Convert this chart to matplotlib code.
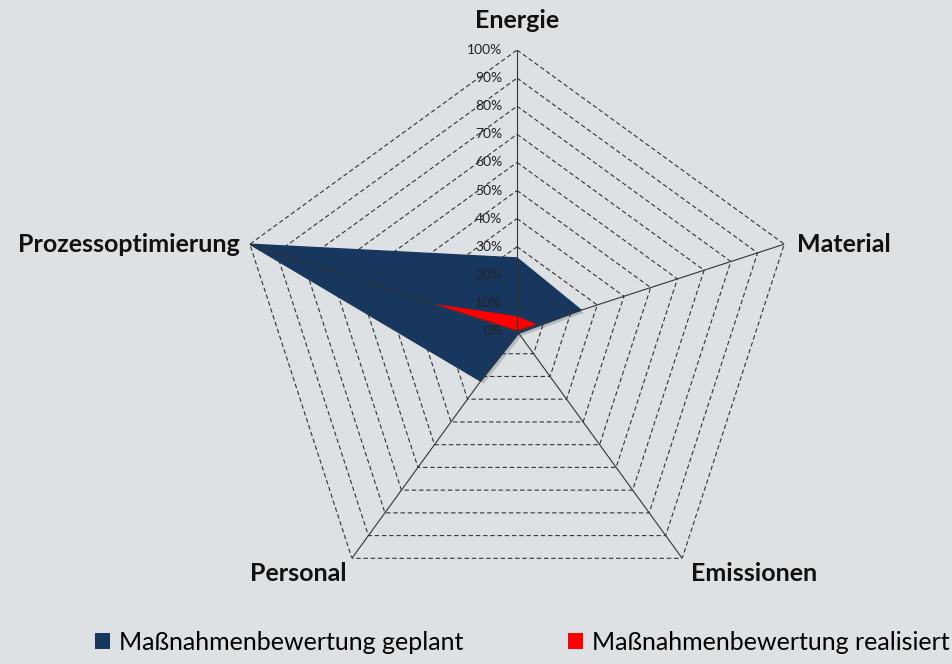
import numpy as np
import matplotlib
matplotlib.use("Agg")
import matplotlib.pyplot as plt
from matplotlib.patches import Patch
import matplotlib.patheffects as pe

categories = ["Energie", "Material", "Emissionen", "Personal", "Prozessoptimierung"]
geplant = [0.26, 0.24, 0.01, 0.22, 1.00]
realisiert = [0.05, 0.07, 0.00, 0.00, 0.30]
ticks = [0.0, 0.1, 0.2, 0.3, 0.4, 0.5, 0.6, 0.7, 0.8, 0.9, 1.0]
tick_labels = ["0%", "10%", "20%", "30%", "40%", "50%", "60%", "70%", "80%", "90%", "100%"]
series_names = ["Maßnahmenbewertung geplant", "Maßnahmenbewertung realisiert"]
colors = ["#17375e", "#ff0000"]

bg = "#dde1e4"
fig = plt.figure(figsize=(9.53, 6.64), dpi=100, facecolor=bg)
ax = fig.add_axes([0.2477, 0.0783, 0.5897, 0.8464], projection="polar")
ax.set_facecolor("none")
ax.set_theta_offset(np.pi / 2)
ax.set_theta_direction(-1)
ax.set_ylim(0, 1)
ax.grid(False)
ax.spines["polar"].set_visible(False)
ax.set_xticks([])
ax.set_yticks([])

n = len(categories)
angles = np.arange(n) * 2 * np.pi / n
ang_closed = np.append(angles, angles[0])

# dashed polygon grid
for t in ticks[1:]:
    ax.plot(ang_closed, [t] * (n + 1), color="#333333", lw=0.8,
            linestyle=(0, (4, 2.5)), zorder=1)

def closed(v):
    return np.append(v, v[0])

shadow = [pe.SimplePatchShadow(offset=(2, -2), alpha=0.18), pe.Normal()]
ax.fill(ang_closed, closed(geplant), color=colors[0], zorder=2, path_effects=shadow)
ax.fill(ang_closed, closed(realisiert), color=colors[1], zorder=3)

# spokes
for a in angles:
    ax.plot([a, a], [0, 1], color="#333333", lw=0.8, zorder=4)

# radial tick labels
for t, lab in zip(ticks, tick_labels):
    ax.annotate(lab, xy=(0, t), xytext=(-10.5, 0), textcoords="offset points",
                ha="right", va="center", fontsize=10, color="#222222",
                family="Lato", zorder=5)

# category labels
offsets = [(0, 21, "center", "center"),
           (9, 0, "left", "center"),
           (6, -11, "left", "center"),
           (-4, -11, "right", "center"),
           (-7, 0, "right", "center")]
for a, cat, (dx, dy, ha, va) in zip(angles, categories, offsets):
    ax.annotate(cat, xy=(a, 1.0), xytext=(dx, dy), textcoords="offset points",
                ha=ha, va=va, fontsize=18, fontweight="bold", family="Lato",
                color="#111111")

handles = [Patch(facecolor=c, edgecolor="none") for c in colors]
fig.legend(handles, series_names, loc="center", bbox_to_anchor=(0.548, 0.033),
           ncol=2, frameon=False, prop={"family": "Lato", "size": 18},
           handlelength=0.6, handleheight=0.6, handletextpad=0.35,
           columnspacing=4.2)

fig.savefig("out.png", dpi=100, facecolor=bg)
